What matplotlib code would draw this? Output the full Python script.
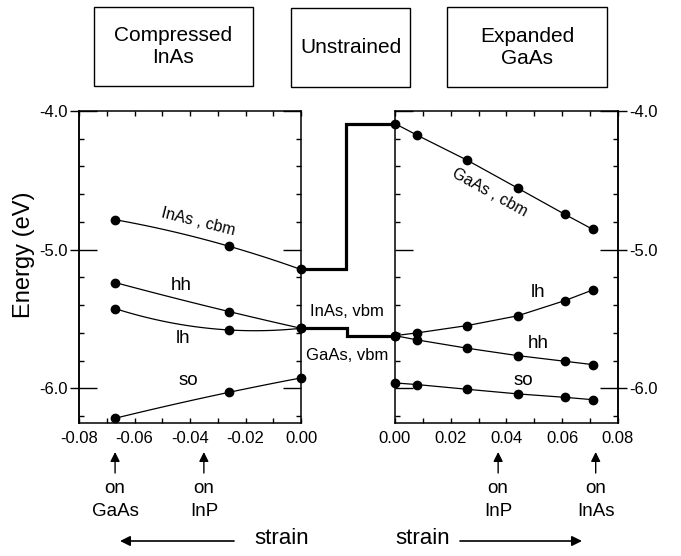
import numpy as np
import matplotlib
matplotlib.use("Agg")
import matplotlib.pyplot as plt
from matplotlib.ticker import MultipleLocator, FuncFormatter, NullLocator
from matplotlib.patches import Rectangle

plt.rcParams['font.family'] = ['Liberation Sans', 'DejaVu Sans']

# compressed InAs (negative strain)
strain_c = [-0.067, -0.026, 0.0]
inas_cbm = [-4.784, -4.975, -5.143]
inas_hh = [-5.237, -5.446, -5.567]
inas_lh = [-5.425, -5.579, -5.567]
inas_so = [-6.216, -6.029, -5.925]

# expanded GaAs (positive strain)
strain_e = [0.0, 0.008, 0.026, 0.044, 0.061, 0.071]
gaas_cbm = [-4.091, -4.175, -4.356, -4.556, -4.746, -4.854]
gaas_lh = [-5.620, -5.600, -5.547, -5.477, -5.367, -5.290]
gaas_hh = [-5.620, -5.651, -5.711, -5.764, -5.805, -5.829]
gaas_so = [-5.961, -5.973, -6.007, -6.040, -6.065, -6.082]

# unstrained band edges: InAs -> GaAs
unstr_cbm = [inas_cbm[-1], gaas_cbm[0]]
unstr_vbm = [inas_hh[-1], gaas_hh[0]]

# substrate markers
subs_c = [(-0.067, "on\nGaAs"), (-0.035, "on\nInP")]
subs_e = [(0.037, "on\nInP"), (0.072, "on\nInAs")]

W, H = 681, 556
fig = plt.figure(figsize=(W / 100, H / 100), dpi=100)


def rect(x0, x1, y0, y1):
    return [x0 / W, 1 - y1 / H, (x1 - x0) / W, (y1 - y0) / H]


ax1 = fig.add_axes(rect(79, 301, 111, 423))
axm = fig.add_axes(rect(301, 395, 111, 423))
ax2 = fig.add_axes(rect(395, 618, 111, 423))

ylim = (-6.25, -4.0)
fmt_x = FuncFormatter(lambda v, p: ("%.2f" % v).replace("-0.00", "0.00"))
fmt_y = FuncFormatter(lambda v, p: "%.1f" % v)

for ax, xl in ((ax1, (-0.08, 0.0)), (ax2, (0.0, 0.08))):
    ax.set_xlim(*xl)
    ax.set_ylim(*ylim)
    for s in ax.spines.values():
        s.set_linewidth(1.1)
    ax.xaxis.set_major_locator(MultipleLocator(0.02))
    ax.xaxis.set_minor_locator(MultipleLocator(0.01))
    ax.yaxis.set_major_locator(MultipleLocator(1.0))
    ax.yaxis.set_minor_locator(MultipleLocator(0.2))
    ax.xaxis.set_major_formatter(fmt_x)
    ax.yaxis.set_major_formatter(fmt_y)
    ax.tick_params(axis='x', which='both', direction='in', length=3.5, width=1,
                   top=True, bottom=True, labelsize=12, pad=6)
    ax.tick_params(axis='y', which='major', direction='in', length=13, width=1,
                   left=True, right=True, labelsize=12, pad=8)
    ax.tick_params(axis='y', which='minor', direction='in', length=3.5, width=1,
                   left=True, right=True)

ax2.tick_params(axis='y', labelleft=False, labelright=True)

# short outward stubs on the labelled side
for ax, side in ((ax1, 'left'), (ax2, 'right')):
    sec = ax.secondary_yaxis(side)
    sec.set_yticks([-6.0, -5.0, -4.0])
    sec.yaxis.set_minor_locator(NullLocator())
    sec.tick_params(direction='out', length=6.5, width=1,
                    labelleft=False, labelright=False)
    sec.spines[side].set_linewidth(1.1)

# left panel: smooth curves through three points
xs = np.linspace(strain_c[0], strain_c[-1], 100)
for yv in (inas_cbm, inas_hh, inas_lh, inas_so):
    c = np.polyfit(strain_c, yv, 2)
    ax1.plot(xs, np.polyval(c, xs), color='k', lw=0.9)
    ax1.plot(strain_c, yv, 'o', color='k', ms=6, clip_on=False, zorder=5)

for yv in (gaas_cbm, gaas_lh, gaas_hh, gaas_so):
    ax2.plot(strain_e, yv, '-', color='k', lw=0.9)
    ax2.plot(strain_e, yv, 'o', color='k', ms=6, clip_on=False, zorder=5)

# middle: unstrained step
axm.set_xlim(0, 1)
axm.set_ylim(*ylim)
axm.axis('off')
axm.plot([0, 0.48, 0.48, 1], [unstr_cbm[0], unstr_cbm[0], unstr_cbm[1], unstr_cbm[1]],
         color='k', lw=2.3, clip_on=False, solid_joinstyle='miter')
axm.plot([0, 0.49, 0.49, 1], [unstr_vbm[0], unstr_vbm[0], unstr_vbm[1], unstr_vbm[1]],
         color='k', lw=2.3, clip_on=False, solid_joinstyle='miter')

fs = 11.5
fb = 13.5
ax1.text(-0.037, -4.80, "InAs , cbm", fontsize=fs, rotation=-14, ha='center', va='center')
ax1.text(-0.043, -5.26, "hh", fontsize=fb, ha='center', va='center')
ax1.text(-0.0425, -5.64, "lh", fontsize=fb, ha='center', va='center')
ax1.text(-0.0407, -5.945, "so", fontsize=fb, ha='center', va='center')
ax2.text(0.034, -4.585, "GaAs , cbm", fontsize=fs, rotation=-29, ha='center', va='center')
ax2.text(0.0513, -5.307, "lh", fontsize=fb, ha='center', va='center')
ax2.text(0.0513, -5.675, "hh", fontsize=fb, ha='center', va='center')
ax2.text(0.046, -5.945, "so", fontsize=fb, ha='center', va='center')
axm.text(0.49, -5.444, "InAs, vbm", fontsize=12, ha='center', va='center', clip_on=False)
axm.text(0.49, -5.764, "GaAs, vbm", fontsize=12, ha='center', va='center', clip_on=False)

fig.text(24 / W, 1 - 255 / H, "Energy (eV)", rotation=90, fontsize=17,
         ha='center', va='center')

# substrate arrows
def yfrac(py):
    return (423 - py) / 312


for ax, subs in ((ax1, subs_c), (ax2, subs_e)):
    tr = ax.get_xaxis_transform()
    for s, lab in subs:
        ax.annotate('', xy=(s, yfrac(452)), xytext=(s, yfrac(473)), xycoords=tr,
                    textcoords=tr, annotation_clip=False,
                    arrowprops=dict(arrowstyle='-|>', color='k', lw=1.0,
                                    mutation_scale=14, shrinkA=0, shrinkB=0))
        ax.text(s, yfrac(500), lab, transform=tr, fontsize=13.5, ha='center',
                va='center', linespacing=1.4, clip_on=False)

# strain direction arrows
def ff(px, py):
    return (px / W, 1 - py / H)


fig.text(*ff(282, 539), "strain", fontsize=16, ha='center', va='center')
fig.text(*ff(423, 539), "strain", fontsize=16, ha='center', va='center')
ax1.annotate('', xy=ff(120, 541), xytext=ff(234, 541), xycoords='figure fraction',
             textcoords='figure fraction', annotation_clip=False,
             arrowprops=dict(arrowstyle='-|>', color='k', lw=1.2,
                             mutation_scale=15, shrinkA=0, shrinkB=0))
ax2.annotate('', xy=ff(582, 541), xytext=ff(460, 541), xycoords='figure fraction',
             textcoords='figure fraction', annotation_clip=False,
             arrowprops=dict(arrowstyle='-|>', color='k', lw=1.2,
                             mutation_scale=15, shrinkA=0, shrinkB=0))

# title boxes
boxes = [(94, 253, 7, 86, "Compressed\nInAs"),
         (291, 410, 8, 87, "Unstrained"),
         (447, 607, 7, 87, "Expanded\nGaAs")]
for x0, x1, y0, y1, lab in boxes:
    fig.add_artist(Rectangle((x0 / W, 1 - y1 / H), (x1 - x0) / W, (y1 - y0) / H,
                             transform=fig.transFigure, fill=False, ec='k', lw=1.0))
    fig.text((x0 + x1) / 2 / W, 1 - (y0 + y1) / 2 / H, lab, fontsize=15,
             ha='center', va='center', linespacing=1.2)

fig.savefig("out.png", dpi=100)
